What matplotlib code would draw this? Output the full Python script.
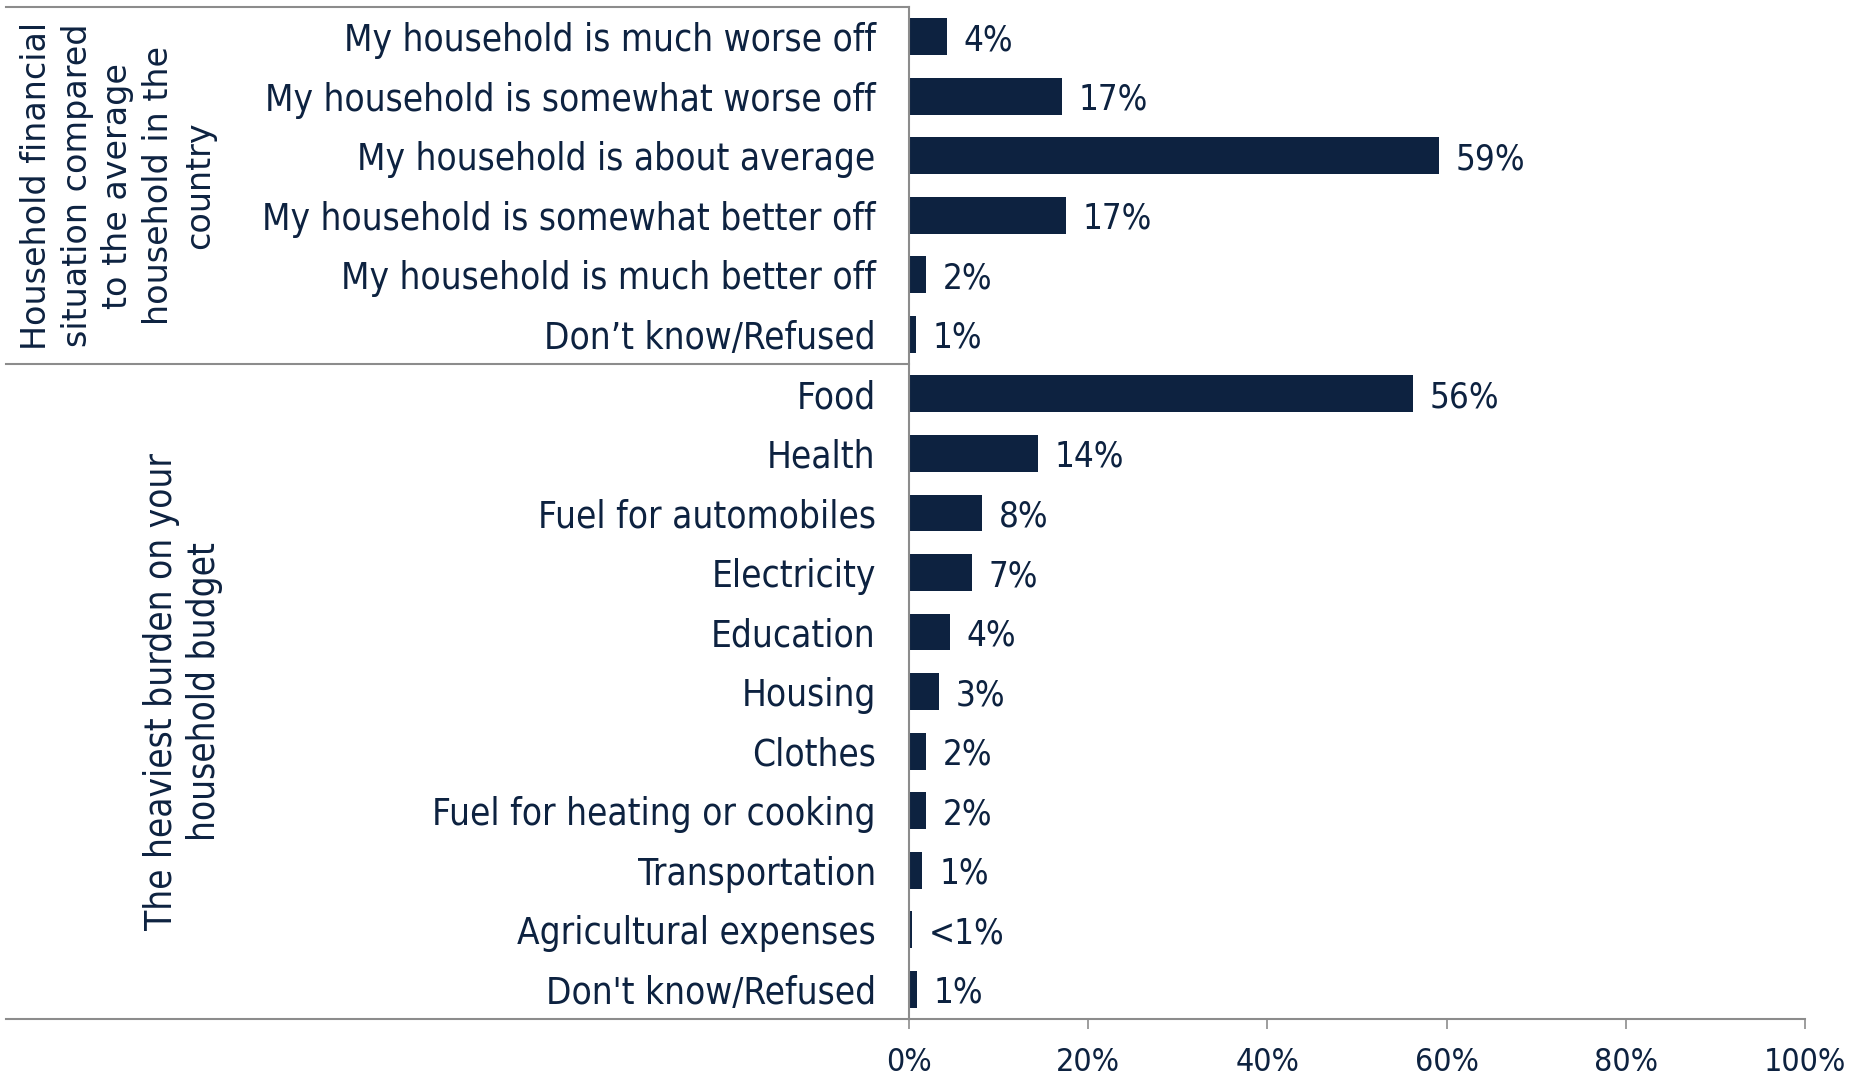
import matplotlib.pyplot as plt
import numpy as np
from matplotlib.transforms import blended_transform_factory

# categories (top to bottom) and shares in %
group1_labels = ['My household is much worse off', 'My household is somewhat worse off',
                 'My household is about average', 'My household is somewhat better off',
                 'My household is much better off', 'Don\u2019t know/Refused']
group1_values = [4.2, 17.1, 59.1, 17.5, 1.9, 0.8]
group1_text = ['4%', '17%', '59%', '17%', '2%', '1%']

group2_labels = ['Food', 'Health', 'Fuel for automobiles', 'Electricity', 'Education',
                 'Housing', 'Clothes', 'Fuel for heating or cooking', 'Transportation',
                 'Agricultural expenses', "Don't know/Refused"]
group2_values = [56.2, 14.4, 8.2, 7.0, 4.6, 3.4, 1.9, 1.9, 1.5, 0.3, 0.9]
group2_text = ['56%', '14%', '8%', '7%', '4%', '3%', '2%', '2%', '1%', '<1%', '1%']

group_titles = ['Household financial\nsituation compared\nto the average\nhousehold in the\ncountry',
                'The heaviest burden on your\nhousehold budget']

navy = '#0d2240'
grey = '#8c8c8c'
font = dict(family='DejaVu Sans', fontstretch='condensed')

labels = group1_labels + group2_labels
values = group1_values + group2_values
texts = group1_text + group2_text
n = len(labels)
y = np.arange(n)

fig = plt.figure(figsize=(18.57, 10.76), dpi=100)
ax_left = 0.4895
ax = fig.add_axes([ax_left, 0.053, 0.4825, 0.9405])

ax.barh(y, values, height=0.62, color=navy)
ax.set_ylim(n - 0.5, -0.5)
ax.set_xlim(0, 100)

for yi, v, t in zip(y, values, texts):
    ax.annotate(t, (v, yi), xytext=(12, 0), textcoords='offset points',
                va='center_baseline', ha='left', fontsize=25, color=navy, **font)

ax.set_yticks(y)
ax.set_yticklabels(labels, fontsize=26.5, color=navy, **font)
ax.tick_params(axis='y', length=0, pad=24)

ax.set_xticks(np.arange(0, 101, 20))
ax.set_xticklabels([f'{v}%' for v in range(0, 101, 20)], fontsize=23, color=navy, **font)
ax.tick_params(axis='x', length=7, width=1.2, color=grey, pad=13, direction='out')

for s in ['top', 'right']:
    ax.spines[s].set_visible(False)
for s in ['left', 'bottom']:
    ax.spines[s].set_color(grey)
    ax.spines[s].set_linewidth(1.5)

# group bracket lines extending to the left edge
tr = blended_transform_factory(fig.transFigure, ax.transData)
x0 = 6 / 1857
for yline in [-0.5, len(group1_labels) - 0.5, n - 0.5]:
    ax.plot([x0, ax_left], [yline, yline], transform=tr, color=grey, lw=1.5, clip_on=False)

ax.text(118 / 1857, (len(group1_labels) - 1) / 2, group_titles[0], transform=tr, rotation=90,
        ha='center', va='center', multialignment='center', fontsize=24, color=navy,
        family='DejaVu Sans', linespacing=1.3)
ax.text(183 / 1857, len(group1_labels) + (len(group2_labels) - 1) / 2, group_titles[1], transform=tr,
        rotation=90, ha='center', va='center', multialignment='center', fontsize=26.5, color=navy,
        linespacing=1.2, **font)

fig.savefig('out.png', dpi=100)
